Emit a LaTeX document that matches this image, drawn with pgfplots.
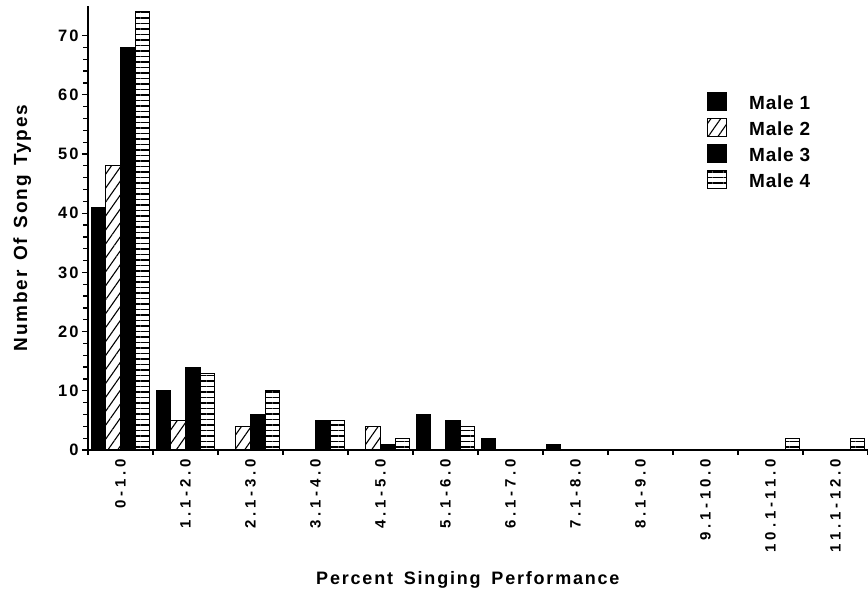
\documentclass[border=0pt]{standalone}
\usepackage{fontspec}
\setmainfont{Liberation Sans}
\newfontfamily\lblfont{Liberation Sans}[LetterSpace=10]
\newfontfamily\xtfont{Liberation Sans}[LetterSpace=25]
\newfontfamily\ytfont{Liberation Sans}[LetterSpace=12]
\newfontfamily\legfont{Liberation Sans}[LetterSpace=4]
\usepackage{pgfplots}
\pgfplotsset{compat=1.18}
\usetikzlibrary{patterns.meta}

\begin{document}
\begin{tikzpicture}
\begin{axis}[
  scale only axis, width=780pt, height=444pt,
  xmin=0.5, xmax=12.5, ymin=0, ymax=75,
  axis x line=bottom, axis y line=left,
  axis line style={-, line width=1.8pt},
  ybar=0pt, bar width=0.225,
  xtick={1,...,12},
  xticklabels={0-1.0,1.1-2.0,2.1-3.0,3.1-4.0,4.1-5.0,5.1-6.0,6.1-7.0,7.1-8.0,8.1-9.0,9.1-10.0,10.1-11.0,11.1-12.0},
  major x tick style={draw=none},
  minor xtick={0.5,1.5,...,12.5},
  ytick={0,10,...,70}, minor y tick num=4,
  tick align=outside,
  tick style={line width=1.3pt, black},
  major tick length=6pt, minor tick length=4.5pt,
  /pgf/number format/assume math mode=true,
  yticklabel style={font=\ytfont\bfseries\fontsize{16.5}{16.5}\selectfont},
  xticklabel style={font=\xtfont\bfseries\fontsize{15}{15}\selectfont, rotate=90, anchor=east},
  ylabel={Number\hspace{0.5em}Of\hspace{0.5em}Song\hspace{0.5em}Types},
  ylabel style={at={(rel axis cs:-0.0782,0.5)}, anchor=base, font=\lblfont\bfseries\fontsize{19}{19}\selectfont},
  xlabel={Percent\hspace{0.6em}Singing\hspace{0.6em}Performance},
  xlabel style={at={(rel axis cs:0.487,-0.304)}, anchor=base, font=\lblfont\bfseries\fontsize{18}{18}\selectfont},
  legend style={at={(rel axis cs:0.7936,0.806)}, anchor=north west, draw=none, fill=none,
    inner sep=0pt, row sep=7pt, font=\legfont\bfseries\fontsize{19}{19}\selectfont,
    nodes={inner sep=0pt, anchor=west, text height=13pt, text depth=0pt},
    /tikz/every odd column/.append style={column sep=22pt}},
  legend image code/.code={\draw[#1, line width=1pt] (0pt,-8pt) rectangle (19pt,10pt);},
  clip=false,
]
\addplot[fill=black, draw=black, line width=1pt] coordinates {
  (1,41) (2,10) (3,0) (4,0) (5,0) (6,6) (7,2) (8,1) (9,0) (10,0) (11,0) (12,0)};
\addplot[draw=black, line width=1pt, pattern={Lines[angle=55,distance=8pt,line width=1.1pt]}] coordinates {
  (1,48) (2,5) (3,4) (4,0) (5,4) (6,0) (7,0) (8,0) (9,0) (10,0) (11,0) (12,0)};
\addplot[fill=black, draw=black, line width=1pt] coordinates {
  (1,68) (2,14) (3,6) (4,5) (5,1) (6,5) (7,0) (8,0) (9,0) (10,0) (11,0) (12,0)};
\addplot[draw=black, line width=1pt, pattern={Lines[angle=0,distance=5.5pt,line width=1.3pt]}] coordinates {
  (1,74) (2,13) (3,10) (4,5) (5,2) (6,4) (7,0) (8,0) (9,0) (10,0) (11,2) (12,2)};
\legend{Male 1, Male 2, Male 3, Male 4}
\end{axis}
\pgfresetboundingbox
\path[use as bounding box] (-88pt,-140pt) rectangle (780pt,450pt);
\end{tikzpicture}
\end{document}
